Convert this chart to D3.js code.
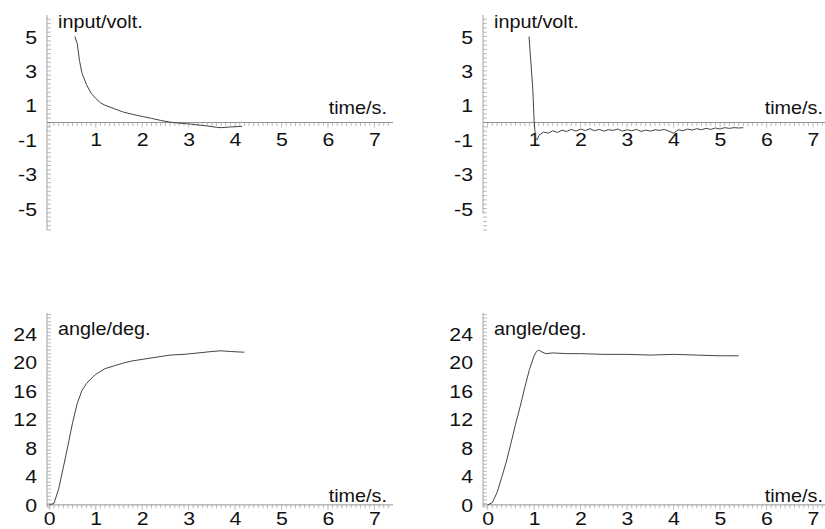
<!DOCTYPE html>
<html>
<head>
    <script src="https://cdn.jsdelivr.net/npm/d3@7"></script>
    <style>
        body { margin: 0; background: #fff; }
        svg { display: block; }
        text { font-family: "Liberation Sans", Arial, sans-serif; font-size: 18px; fill: #111; }
        text.tick { font-size: 19px; }
    </style>
</head>
<body>
<svg width="825" height="529"></svg>
<script>
    // top-left: input voltage, first controller
    var input1_t = [0.55, 0.6, 0.65, 0.7, 0.8, 0.9, 1.0, 1.1, 1.2, 1.4, 1.6, 1.8, 2.0, 2.2, 2.4, 2.6, 2.8, 3.0, 3.2, 3.4, 3.6, 3.7, 3.9, 4.15];
    var input1_v = [5.0, 4.6, 3.6, 2.9, 2.2, 1.7, 1.4, 1.15, 1.0, 0.8, 0.6, 0.47, 0.35, 0.24, 0.12, 0.02, -0.04, -0.08, -0.14, -0.2, -0.28, -0.3, -0.26, -0.22];

    // top-right: input voltage, second controller
    var input2_t = [0.89, 0.97, 1.0, 1.03, 1.07, 1.1, 1.2, 1.3, 1.4, 1.5, 1.6, 1.7, 1.8, 1.9, 2.0,
                    2.1, 2.2, 2.3, 2.4, 2.5, 2.6, 2.7, 2.8, 2.9, 3.0, 3.1, 3.2, 3.3, 3.4, 3.5,
                    3.6, 3.7, 3.8, 3.9, 4.0, 4.1, 4.2, 4.3, 4.4, 4.5, 4.6, 4.7, 4.8, 4.9, 5.0,
                    5.1, 5.2, 5.3, 5.4, 5.5];
    var input2_v = [5.0, 2.0, 0.1, -0.9, -1.0, -0.75, -0.55, -0.62, -0.48, -0.58, -0.45, -0.52, -0.4, -0.5, -0.38,
                    -0.47, -0.36, -0.48, -0.4, -0.5, -0.42, -0.46, -0.38, -0.5, -0.42, -0.48, -0.4, -0.52, -0.44, -0.5,
                    -0.42, -0.46, -0.4, -0.5, -0.62, -0.42, -0.48, -0.38, -0.44, -0.36, -0.42, -0.34, -0.4, -0.32, -0.38,
                    -0.3, -0.34, -0.3, -0.32, -0.3];

    // bottom-left: pendulum angle, first controller
    var angle1_t = [0, 0.1, 0.2, 0.3, 0.4, 0.5, 0.6, 0.7, 0.8, 0.9, 1.0, 1.2, 1.4, 1.6, 1.8, 2.0, 2.3, 2.6, 2.9, 3.2, 3.5, 3.7, 3.9, 4.2];
    var angle1_v = [0, 0.2, 2.2, 5.2, 8.3, 11.5, 14.2, 16.0, 17.0, 17.7, 18.3, 19.1, 19.5, 19.9, 20.2, 20.4, 20.7, 21.0, 21.1, 21.3, 21.5, 21.6, 21.5, 21.4];

    // bottom-right: pendulum angle, second controller
    var angle2_t = [0, 0.1, 0.2, 0.3, 0.4, 0.5, 0.6, 0.7, 0.8, 0.9, 1.0, 1.05, 1.1, 1.15, 1.25, 1.4, 1.7, 2.0, 2.5, 3.0, 3.5, 4.0, 4.5, 5.0, 5.4];
    var angle2_v = [0, 0.3, 1.7, 3.8, 6.0, 8.6, 11.3, 13.8, 16.5, 19.0, 20.9, 21.5, 21.7, 21.5, 21.2, 21.3, 21.2, 21.2, 21.1, 21.1, 21.0, 21.1, 21.0, 20.9, 20.9];

    var time_ticks = [1, 2, 3, 4, 5, 6, 7];
    var time_ticks_bottom = [0, 1, 2, 3, 4, 5, 6, 7];
    var volt_ticks = [5, 3, 1, -1, -3, -5];
    var angle_ticks = [24, 20, 16, 12, 8, 4, 0];

    const svg = d3.select("svg");

    // the scanned glyphs are a bit wide, so text gets a horizontal stretch
    function label(g, str, x, y, anchor, cls, sx) {
        g.append("text")
            .attr("class", cls)
            .attr("transform", "translate(" + x + "," + y + ") scale(" + sx + ",1)")
            .attr("text-anchor", anchor)
            .text(str);
    }

    function panel(opt) {
        const g = svg.append("g");
        const x = d3.scaleLinear().domain(opt.xdom).range(opt.xrange);
        const y = d3.scaleLinear().domain(opt.ydom).range(opt.yrange);
        const ax = x(opt.xdom[0]);
        const ay = y(0);

        // minor ticks on the y axis
        g.append("g").selectAll("line")
            .data(d3.range(opt.ydom[0], opt.ydom[1], opt.ystep))
            .enter().append("line")
                .attr("x1", ax).attr("x2", ax + 4)
                .attr("y1", function(d) { return y(d); })
                .attr("y2", function(d) { return y(d); })
                .attr("stroke", "#aaa").attr("stroke-width", 0.8);

        // minor ticks on the x axis
        g.append("g").selectAll("line")
            .data(d3.range(0, opt.xdom[1], 0.1))
            .enter().append("line")
                .attr("x1", function(d) { return x(d); })
                .attr("x2", function(d) { return x(d); })
                .attr("y1", ay).attr("y2", function(d, i) { return ay + (i % 10 == 0 ? 5 : 3.5); })
                .attr("stroke", "#aaa").attr("stroke-width", 0.8);

        g.append("line")
            .attr("x1", ax).attr("x2", ax)
            .attr("y1", y(opt.ydom[1])).attr("y2", y(opt.yaxisEnd))
            .attr("stroke", "#999").attr("stroke-width", 0.9);
        g.append("line")
            .attr("x1", ax).attr("x2", x(opt.xdom[1]))
            .attr("y1", ay).attr("y2", ay)
            .attr("stroke", "#888").attr("stroke-width", 0.9);

        opt.yticks.forEach(function(d) {
            label(g, d, ax - 10, y(d) + 7, "end", "tick", 1.12);
        });
        opt.xticks.forEach(function(d) {
            label(g, d, x(d) - 5.5, ay + opt.xlabOffset, "start", "tick", 1.12);
        });
        label(g, opt.ytitle, ax + 11, opt.ytitleY, "start", "title", 1.1);
        label(g, "time/s.", opt.xtitleX, opt.xtitleY, "end", "title", 1.1);

        const line = d3.line()
            .x(function(d) { return x(d[0]); })
            .y(function(d) { return y(d[1]); });

        g.append("path")
            .datum(d3.zip(opt.t, opt.v))
            .attr("d", line)
            .attr("fill", "none")
            .attr("stroke", "#444")
            .attr("stroke-width", 1);
    }

    panel({ t: input1_t, v: input1_v, xdom: [-0.05, 7.4], xrange: [47, 393],
            ydom: [-6.25, 6.25], yrange: [230, 15], yaxisEnd: -6.25, ystep: 0.25,
            xticks: time_ticks, yticks: volt_ticks, xlabOffset: 23.5,
            ytitle: "input/volt.", ytitleY: 28, xtitleX: 387, xtitleY: 114 });

    panel({ t: input2_t, v: input2_v, xdom: [-0.1, 7.3], xrange: [483, 827],
            ydom: [-6.25, 6.25], yrange: [230, 15], yaxisEnd: -5.3, ystep: 0.25,
            xticks: time_ticks, yticks: volt_ticks, xlabOffset: 23.5,
            ytitle: "input/volt.", ytitleY: 28, xtitleX: 823, xtitleY: 114 });

    panel({ t: angle1_t, v: angle1_v, xdom: [-0.05, 7.4], xrange: [47, 393],
            ydom: [-0.3, 26.9], yrange: [507, 313], yaxisEnd: -0.3, ystep: 0.5,
            xticks: time_ticks_bottom, yticks: angle_ticks, xlabOffset: 20.5,
            ytitle: "angle/deg.", ytitleY: 335, xtitleX: 387, xtitleY: 502 });

    panel({ t: angle2_t, v: angle2_v, xdom: [-0.1, 7.3], xrange: [483, 827],
            ydom: [-0.3, 26.9], yrange: [507, 313], yaxisEnd: -0.3, ystep: 0.5,
            xticks: time_ticks_bottom, yticks: angle_ticks, xlabOffset: 20.5,
            ytitle: "angle/deg.", ytitleY: 335, xtitleX: 823, xtitleY: 502 });
</script>
</body>
</html>
